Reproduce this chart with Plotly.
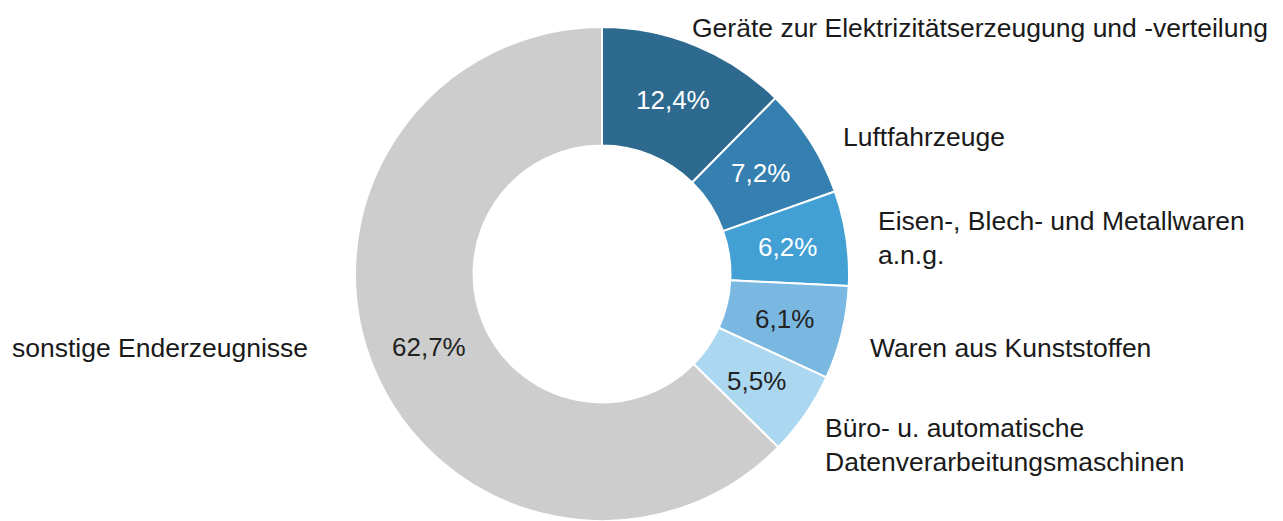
import math
import plotly.graph_objects as go

categories = [
    "Geräte zur Elektrizitätserzeugung und -verteilung",
    "Luftfahrzeuge",
    "Eisen-, Blech- und Metallwaren<br>a.n.g.",
    "Waren aus Kunststoffen",
    "Büro- u. automatische<br>Datenverarbeitungsmaschinen",
    "sonstige Enderzeugnisse",
]
values = [12.4, 7.2, 6.2, 6.1, 5.5, 62.7]
value_labels = ["12,4%", "7,2%", "6,2%", "6,1%", "5,5%", "62,7%"]
colors = ["#2e6a8f", "#3580b0", "#42a0d5", "#7ab8e2", "#acd7f1", "#cdcdcd"]
text_colors = ["white", "white", "white", "#222222", "#222222", "#222222"]

# category label anchor positions in page pixels (left edge, vertical centre)
label_pos = [
    (690, 28),
    (841, 137),
    (876, 238),
    (868, 348),
    (823, 445),
    (10, 348),
]

OFF = 8  # default page body margin
W, H = 1283 - OFF, 521 - OFF
FONT = "Arial, Liberation Sans, sans-serif"
HOLE = 0.52

# pie domain in page pixels
DX0, DX1, DY0, DY1 = 355, 849, 27, 521


def px(x):
    return (x - OFF) / W


def py(y):
    return 1 - (y - OFF) / H


fig = go.Figure()
fig.add_trace(go.Pie(
    labels=categories,
    values=values,
    textinfo="none",
    marker=dict(colors=colors, line=dict(color="white", width=2)),
    hole=HOLE,
    sort=False,
    direction="clockwise",
    rotation=0,
    showlegend=False,
    domain=dict(x=[px(DX0), px(DX1)], y=[max(0, py(DY1)), py(DY0)]),
))

# value labels at the middle of each ring segment (derived from the values)
cx, cy = (DX0 + DX1) / 2, (DY0 + DY1) / 2
r_out = min(DX1 - DX0, DY1 - DY0) / 2
r_mid = r_out * (1 + HOLE) / 2
total = sum(values)
cum = 0.0
for v, lab, tc in zip(values, value_labels, text_colors):
    theta = 2 * math.pi * (cum + v / 2) / total
    cum += v
    tx = cx + r_mid * math.sin(theta)
    ty = cy - r_mid * math.cos(theta)
    fig.add_annotation(
        text=lab, x=px(tx), y=py(ty), xref="paper", yref="paper",
        xanchor="center", yanchor="middle", showarrow=False,
        font=dict(family=FONT, size=26, color=tc),
    )

for cat, (lx, ly) in zip(categories, label_pos):
    fig.add_annotation(
        text=cat, x=px(lx), y=py(ly), xref="paper", yref="paper",
        xanchor="left", yanchor="middle", align="left", showarrow=False,
        font=dict(family=FONT, size=26.5, color="#1a1a1a"),
    )

fig.update_layout(
    width=W, height=H,
    margin=dict(l=0, r=0, t=0, b=0),
    paper_bgcolor="white", plot_bgcolor="white",
)

fig.write_html("out.html")
